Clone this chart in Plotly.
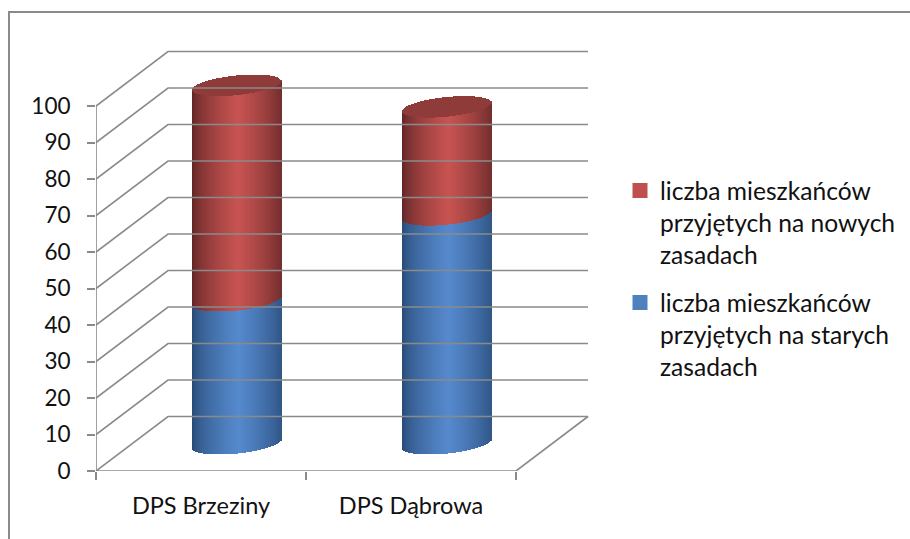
import numpy as np
import plotly.graph_objects as go

categories = ["DPS Brzeziny", "DPS Dąbrowa"]
old_rules = [39.2, 62.7]
new_rules = [59.0, 29.6]
y_ticks = list(range(0, 101, 10))
legend_new = ["liczba mieszkańców", "przyjętych na nowych", "zasadach"]
legend_old = ["liczba mieszkańców", "przyjętych na starych", "zasadach"]

GREY = "#8a8a8a"
FONT = "Lato, Carlito, Calibri, sans-serif"
PX_X, PX_Y = 210.0, 3.65          # pixels per category / per value
DX, DY = 72 / PX_X, 54.5 / PX_Y   # depth of the pseudo-3D box
A, B, K = 44.15 / PX_X, 9.8 / PX_Y, 4.4 / PX_Y  # ellipse half-width, half-height, tilt
N = 88


def shade(base, edge, u, power=0.62):
    s = np.clip(1 - np.abs(u - 0.05) / 1.05, 0, 1) ** power
    return [f"rgb({int(edge[0] + (base[0] - edge[0]) * v)},"
            f"{int(edge[1] + (base[1] - edge[1]) * v)},"
            f"{int(edge[2] + (base[2] - edge[2]) * v)})" for v in s]


def cylinder_part(lows, highs, base, edge):
    xs, bases, heights, colors = [], [], [], []
    for i, (lo, hi) in enumerate(zip(lows, highs)):
        u = (np.arange(N) + 0.5) / N * 2 - 1
        cx = i + 0.5 + DX / 2
        front = K * u - B * np.sqrt(1 - u ** 2)
        xs += list(cx + u * A)
        bases += list(lo + DY / 2 + front)
        heights += [hi - lo] * N
        colors += shade(base, edge, u)
    return go.Bar(x=xs, y=heights, base=bases, width=1.3 / PX_X,
                  marker=dict(color=colors, line_width=0), showlegend=False, hoverinfo="skip")


def cylinder_top(levels, color):
    xs, bases, heights = [], [], []
    for i, level in enumerate(levels):
        u = (np.arange(N) + 0.5) / N * 2 - 1
        cx = i + 0.5 + DX / 2
        half = B * np.sqrt(1 - u ** 2)
        xs += list(cx + u * A)
        bases += list(level + DY / 2 + K * u - half)
        heights += list(2 * half)
    return go.Bar(x=xs, y=heights, base=bases, width=1.3 / PX_X,
                  marker=dict(color=color, line_width=0), showlegend=False, hoverinfo="skip")


def line(xs, ys):
    return go.Scatter(x=xs, y=ys, mode="lines", line=dict(color=GREY, width=1.6),
                      showlegend=False, hoverinfo="skip", cliponaxis=False)


fig = go.Figure()
ncat = len(categories)

# box: floor, y axis, x axis and skewed gridlines
fig.add_trace(line([0, DX, ncat + DX, ncat, 0], [0, DY, DY, 0, 0]))
fig.add_trace(line([0, 0], [0, y_ticks[-1]]))
for v in y_ticks[1:]:
    fig.add_trace(line([0, DX, ncat + DX], [v, v + DY, v + DY]))

# cylinders
totals = [a + b for a, b in zip(old_rules, new_rules)]
fig.add_trace(cylinder_part([0] * ncat, old_rules, (86, 138, 206), (38, 72, 115)))
fig.add_trace(cylinder_part(old_rules, totals, (200, 84, 82), (92, 36, 36)))
fig.add_trace(cylinder_top(totals, "#8f3b39"))

# legend entries
fig.add_trace(go.Bar(x=[None], y=[None], name="<br>".join(legend_new), legendgroup="new",
                     marker=dict(color="#c0504d", line=dict(color="#c0504d", width=3))))
fig.add_trace(go.Bar(x=[None], y=[None], name="<br>".join(legend_old), legendgroup="old",
                     marker=dict(color="#4f81bd", line=dict(color="#4f81bd", width=3))))

fig.update_layout(
    width=910, height=539, barmode="overlay", bargap=0,
    margin=dict(l=96, r=310, t=40, b=68, autoexpand=False),
    paper_bgcolor="white", plot_bgcolor="white",
    font=dict(family=FONT, size=22.5, color="#111111"),
    xaxis=dict(range=[0, 504 / PX_X], showgrid=False, zeroline=False, showline=False,
               tickvals=[i + 0.5 for i in range(ncat)], ticktext=categories, ticks="",
               tickfont=dict(size=23.5), ticklabelstandoff=18,
               minor=dict(tickvals=list(range(ncat + 1)), ticks="outside", ticklen=8,
                          tickwidth=1.6, tickcolor=GREY, showgrid=False)),
    yaxis=dict(range=[0, 431 / PX_Y], showgrid=False, zeroline=False, showline=False,
               tickvals=y_ticks, ticks="outside", ticklen=8, tickwidth=1.6, tickcolor=GREY,
               ticklabelstandoff=12),
    legend=dict(x=(620 - 96) / 504, y=(539 - 68 - 168) / 431, xanchor="left", yanchor="top",
                font=dict(size=24.6), tracegroupgap=13, traceorder="grouped", valign="top",
                bgcolor="rgba(0,0,0,0)"),
    shapes=[
        dict(type="line", xref="paper", yref="paper", x0=-88 / 504, x1=814 / 504,
             y0=(471 - 12) / 431, y1=(471 - 12) / 431, line=dict(color=GREY, width=2)),
        dict(type="line", xref="paper", yref="paper", x0=-87 / 504, x1=-87 / 504,
             y0=-68 / 431, y1=(471 - 12) / 431, line=dict(color=GREY, width=2)),
    ],
)

fig.write_html("out.html", config=dict(displayModeBar=False),
               post_script="document.body.style.margin='0';document.body.style.overflow='hidden';")
